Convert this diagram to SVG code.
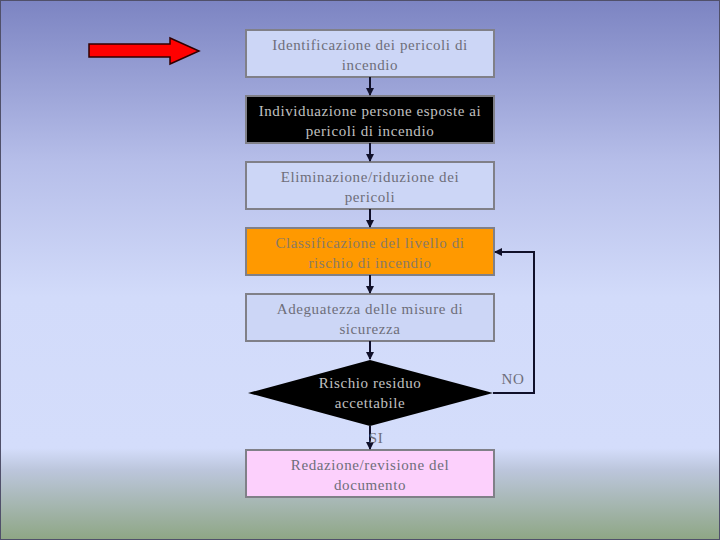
<svg xmlns="http://www.w3.org/2000/svg" width="720" height="540" viewBox="0 0 720 540">
<defs>
<linearGradient id="bg" x1="0" y1="0" x2="0" y2="1">
<stop offset="0" stop-color="#7c84c2"/>
<stop offset="0.3" stop-color="#b6bee9"/>
<stop offset="0.55" stop-color="#d2dbfa"/>
<stop offset="0.83" stop-color="#d4ddfb"/>
<stop offset="0.87" stop-color="#bcc6dc"/>
<stop offset="1" stop-color="#8ea684"/>
</linearGradient>
<marker id="ah" viewBox="0 0 8 8" refX="7" refY="4" markerWidth="8" markerHeight="8" markerUnits="userSpaceOnUse" orient="auto">
<path d="M0,0 L8,4 L0,8 z" fill="#10102a"/>
</marker>
<style>
.box{stroke:#808088;stroke-width:2}
.t{font-size:15px;text-anchor:middle;letter-spacing:0.6px}
.c{fill:none;stroke:#10102a;stroke-width:2}
</style>
</defs>
<rect x="0" y="0" width="720" height="540" fill="url(#bg)"/>
<rect x="0.5" y="0.5" width="719" height="539" fill="none" stroke="#50506a" stroke-width="1"/>

<g id="pointer">
<path d="M89,44 L170,44 L170,38 L199,51 L170,64 L170,57 L89,57 Z" fill="#ff0000" stroke="#300000" stroke-width="1.5"/>
</g>

<g font-family="'Liberation Serif', 'DejaVu Serif', 'Times New Roman', serif">
<g id="n1">
<rect class="box" x="246" y="30" width="248" height="47" fill="#ccd6f6"/>
<text class="t" x="370" y="50" fill="#6e6e7a">Identificazione dei pericoli di</text>
<text class="t" x="370" y="70" fill="#6e6e7a">incendio</text>
</g>
<g id="n2">
<rect class="box" x="246" y="96" width="248" height="47" fill="#000000"/>
<text class="t" x="370" y="116" fill="#c0c0c0">Individuazione persone esposte ai</text>
<text class="t" x="370" y="136" fill="#c0c0c0">pericoli di incendio</text>
</g>
<g id="n3">
<rect class="box" x="246" y="162" width="248" height="47" fill="#ccd6f6"/>
<text class="t" x="370" y="182" fill="#6e6e7a">Eliminazione/riduzione dei</text>
<text class="t" x="370" y="202" fill="#6e6e7a">pericoli</text>
</g>
<g id="n4">
<rect class="box" x="246" y="228" width="248" height="47" fill="#ff9900"/>
<text class="t" x="370" y="248" fill="#8a7a66">Classificazione del livello di</text>
<text class="t" x="370" y="268" fill="#8a7a66">rischio di incendio</text>
</g>
<g id="n5">
<rect class="box" x="246" y="294" width="248" height="47" fill="#ccd6f6"/>
<text class="t" x="370" y="314" fill="#6e6e7a">Adeguatezza delle misure di</text>
<text class="t" x="370" y="334" fill="#6e6e7a">sicurezza</text>
</g>
<g id="n6">
<polygon points="370,360 493,393 370,426 248,393" fill="#000000"/>
<text class="t" x="370" y="388" fill="#c0c0c0">Rischio residuo</text>
<text class="t" x="370" y="408" fill="#c0c0c0">accettabile</text>
</g>
<g id="n7">
<rect class="box" x="246" y="450" width="248" height="47" fill="#fcd0fc"/>
<text class="t" x="370" y="470" fill="#6e6e7a">Redazione/revisione del</text>
<text class="t" x="370" y="490" fill="#6e6e7a">documento</text>
</g>

<g id="connectors">
<line class="c" x1="370" y1="77" x2="370" y2="95" marker-end="url(#ah)"/>
<line class="c" x1="370" y1="143" x2="370" y2="161" marker-end="url(#ah)"/>
<line class="c" x1="370" y1="209" x2="370" y2="227" marker-end="url(#ah)"/>
<line class="c" x1="370" y1="275" x2="370" y2="293" marker-end="url(#ah)"/>
<line class="c" x1="370" y1="341" x2="370" y2="359" marker-end="url(#ah)"/>
<line class="c" x1="370" y1="426" x2="370" y2="449" marker-end="url(#ah)"/>
<polyline class="c" points="493,393 534,393 534,252 495,252" marker-end="url(#ah)"/>
<text class="t" x="513" y="384" fill="#6e6e7a">NO</text>
<text class="t" x="376" y="443" fill="#6e6e7a">SI</text>
</g>
</g>
</svg>
